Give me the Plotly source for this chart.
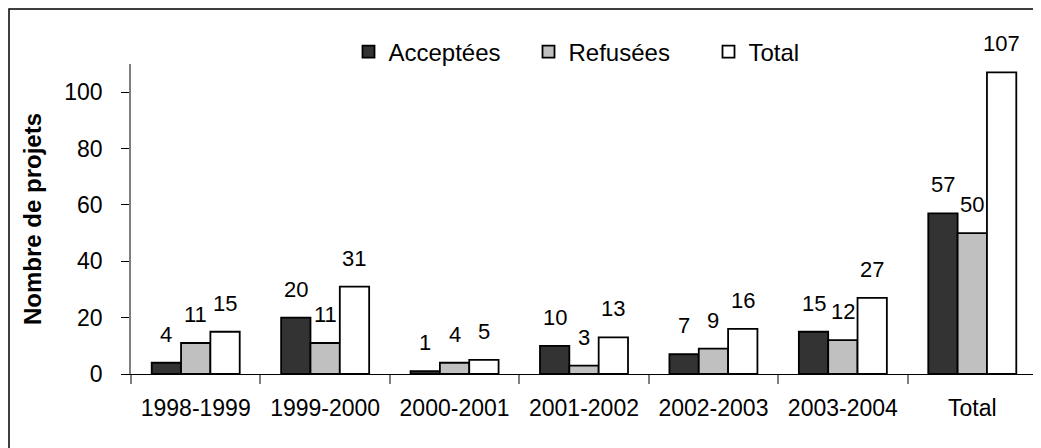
import plotly.graph_objects as go

categories = ["1998-1999", "1999-2000", "2000-2001", "2001-2002", "2002-2003", "2003-2004", "Total"]
acceptees = [4, 20, 1, 10, 7, 15, 57]
refusees = [11, 11, 4, 3, 9, 12, 50]
total = [15, 31, 5, 13, 16, 27, 107]
series_names = ["Acceptées", "Refusées", "Total"]
series_values = [acceptees, refusees, total]
series_colors = ["#333333", "#c0c0c0", "#ffffff"]
y_ticks = [0, 20, 40, 60, 80, 100]

# page has an 8px body margin, so the figure is 8px smaller than the window
W, H = 1033, 440
ML, MR, MT, MB = 123, 4, 56, 74
BARGAP = 0.32
FONT = "Liberation Sans, Arial, sans-serif"

plot_w = W - ML - MR
plot_h = H - MT - MB
bar_px = plot_w / len(categories) * (1 - BARGAP) / len(series_names)

fig = go.Figure()
for name, vals, col in zip(series_names, series_values, series_colors):
    fig.add_trace(go.Bar(
        name=name, x=categories, y=vals,
        marker=dict(color=col, line=dict(color="#000000", width=1.8)),
        hoverinfo="x+y+name",
    ))

annotations = []
for i, vals in enumerate(series_values):
    for cat, v in zip(categories, vals):
        annotations.append(dict(
            x=cat, y=v, xref="x", yref="y", text=str(v), showarrow=False,
            xanchor="center", yanchor="bottom",
            xshift=(i - 1) * bar_px, yshift=14,
            font=dict(family=FONT, size=22, color="#000000"),
        ))

annotations.append(dict(
    x=(24 - ML) / plot_w, y=0.5, xref="paper", yref="paper",
    text="<b>Nombre de projets</b>", textangle=-90, showarrow=False,
    xanchor="center", yanchor="middle",
    font=dict(family=FONT, size=24, color="#000000"),
))

fig.update_layout(
    width=W, height=H,
    margin=dict(l=ML, r=MR, t=MT, b=MB, pad=0),
    paper_bgcolor="white", plot_bgcolor="white",
    barmode="group", bargap=BARGAP, bargroupgap=0,
    font=dict(family=FONT, size=23, color="#000000"),
    showlegend=True,
    legend=dict(
        orientation="h", x=(340.5 - ML) / plot_w, xanchor="left",
        y=1 + (MT - 44) / plot_h, yanchor="middle",
        font=dict(family=FONT, size=24, color="#000000"),
        entrywidth=135, entrywidthmode="pixels",
        bgcolor="rgba(0,0,0,0)", traceorder="normal",
    ),
    annotations=annotations,
    shapes=[dict(
        type="rect", xref="paper", yref="paper",
        x0=(1 - ML) / plot_w, x1=(W + 20 - ML) / plot_w,
        y0=(plot_h + MT - (H + 20)) / plot_h, y1=(plot_h + MT - 1) / plot_h,
        line=dict(color="#000000", width=1.5), fillcolor="rgba(0,0,0,0)",
        layer="below",
    )],
)

fig.update_xaxes(
    type="category", showline=True, linecolor="#000000", linewidth=1.2,
    ticks="outside", tickson="boundaries", ticklen=9, tickcolor="#808080", tickwidth=1.5,
    showgrid=False, zeroline=False, ticklabelstandoff=13,
    tickfont=dict(family=FONT, size=23, color="#000000"),
)
fig.update_yaxes(
    range=[0, 110], tickvals=y_ticks, showline=True, linecolor="#808080", linewidth=1.5,
    ticks="outside", ticklen=8, tickcolor="#000000", tickwidth=1.2,
    showgrid=False, zeroline=False, ticklabelstandoff=14,
    tickfont=dict(family=FONT, size=23, color="#000000"),
)

fig.write_html("out.html")
